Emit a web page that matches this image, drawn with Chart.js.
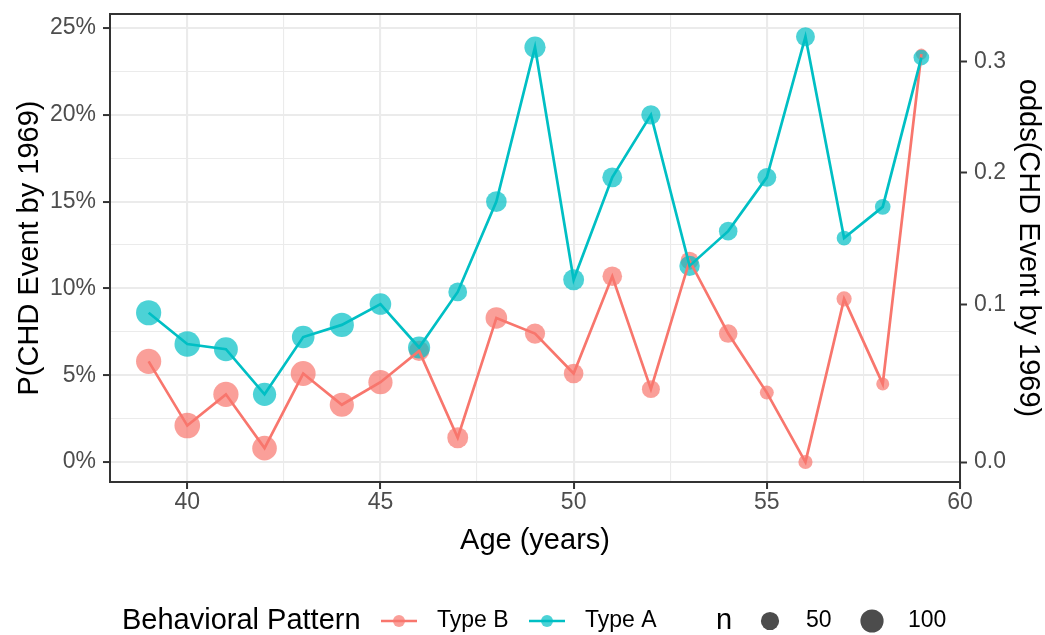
<!DOCTYPE html>
<html>
<head>
<meta charset="utf-8">
<script src="https://cdn.jsdelivr.net/npm/chart.js@4.4.1/dist/chart.umd.min.js"></script>
<style>
  html, body { margin: 0; padding: 0; background: #fff; }
  #wrap { width: 1045px; height: 635px; }
</style>
</head>
<body>
<div id="wrap"><canvas id="myChart" width="1045" height="635"></canvas></div>
<script>
// age in years, share with a CHD event by 1969 (percent), group size n
const ages = [39, 40, 41, 42, 43, 44, 45, 46, 47, 48, 49, 50, 51, 52, 53, 54, 55, 56, 57, 58, 59];
const typeB = [5.8, 2.1, 3.9, 0.8, 5.1, 3.3, 4.6, 6.4, 1.4, 8.3, 7.4, 5.1, 10.7, 4.2, 11.6, 7.4, 4.0, 0.0, 9.4, 4.5, 23.5];
const typeA = [8.6, 6.8, 6.5, 3.9, 7.2, 7.9, 9.1, 6.6, 9.8, 15.0, 23.9, 10.5, 16.4, 20.0, 11.3, 13.3, 16.4, 24.5, 12.9, 14.7, 23.3];
const nB = [125, 130, 125, 117, 121, 112, 112, 68, 75, 82, 68, 62, 62, 48, 48, 53, 21, 22, 28, 16, 8];
const nA = [125, 130, 108, 100, 93, 112, 82, 88, 55, 72, 78, 75, 65, 59, 70, 53, 56, 56, 26, 31, 31];
const ageTicks = [40, 42.5, 45, 47.5, 50, 52.5, 55, 57.5, 60];
const pctTicks = [0, 2.5, 5, 7.5, 10, 12.5, 15, 17.5, 20, 22.5, 25];
const oddsTicks = [0, 0.1, 0.2, 0.3];
const sizeBreaks = [50, 100];

const red = '#F8766D';
const cyan = '#00BFC4';
const redFill = 'rgba(248,118,109,0.7)';
const cyanFill = 'rgba(0,191,196,0.7)';
const font = "'Liberation Sans', Arial, sans-serif";

Chart.defaults.font.family = font;

function radius(n) {
    return (6.2 + 1.7 * Math.sqrt(n)) / 2;
}

function pts(ys) {
    return ages.map((a, i) => ({ x: a, y: ys[i] }));
}

function isMajor(v) {
    return Math.abs(v / 5 - Math.round(v / 5)) < 1e-6;
}

// chart.js reserves room for half a tick label at the ends, ggplot doesn't
function noEdgePadding(s) {
    s.paddingTop = 0;
    s.paddingBottom = 0;
    s.paddingLeft = 0;
    s.paddingRight = 0;
}

const gridOpts = {
    color: '#EBEBEB',
    lineWidth: ctx => isMajor(ctx.tick.value) ? 2.1 : 1.1,
    tickColor: ctx => isMajor(ctx.tick.value) ? '#333333' : 'rgba(0,0,0,0)',
    tickWidth: 2,
    tickLength: 7,
};

const panelBorder = {
    id: 'panelBorder',
    afterDraw(chart) {
        const { ctx, chartArea: a } = chart;
        ctx.save();
        ctx.strokeStyle = '#333333';
        ctx.lineWidth = 2;
        ctx.strokeRect(a.left, a.top, a.right - a.left, a.bottom - a.top);
        ctx.restore();
    }
};

// legend at the bottom, like ggplot's combined legend
const bottomLegend = {
    id: 'bottomLegend',
    afterDraw(chart) {
        const ctx = chart.ctx;
        const y = 621;
        ctx.save();
        ctx.textBaseline = 'middle';
        ctx.textAlign = 'left';
        ctx.fillStyle = '#000';
        ctx.font = `29px ${font}`;
        ctx.fillText('Behavioral Pattern', 122, y);

        const keys = [
            { x: 381, label: 'Type B', line: red, fill: redFill },
            { x: 529, label: 'Type A', line: cyan, fill: cyanFill }
        ];
        keys.forEach(k => {
            ctx.strokeStyle = k.line;
            ctx.lineWidth = 2.7;
            ctx.beginPath();
            ctx.moveTo(k.x, y);
            ctx.lineTo(k.x + 36, y);
            ctx.stroke();
            ctx.fillStyle = k.fill;
            ctx.beginPath();
            ctx.arc(k.x + 18, y, 6, 0, Math.PI * 2);
            ctx.fill();
            ctx.fillStyle = '#000';
            ctx.font = `23px ${font}`;
            ctx.fillText(k.label, k.x + 56, y);
        });

        ctx.font = `29px ${font}`;
        ctx.fillText('n', 716, y);
        const sx = [770, 872];
        sizeBreaks.forEach((n, i) => {
            ctx.fillStyle = 'rgba(0,0,0,0.7)';
            ctx.beginPath();
            ctx.arc(sx[i], y, radius(n), 0, Math.PI * 2);
            ctx.fill();
            ctx.fillStyle = '#000';
            ctx.font = `23px ${font}`;
            ctx.fillText(String(n), sx[i] + 36, y);
        });
        ctx.restore();
    }
};

const ctx = document.getElementById('myChart');

new Chart(ctx, {
    type: 'line',
    data: {
        datasets: [
            {
                label: 'Type A',
                data: pts(typeA),
                borderColor: cyan,
                borderWidth: 2.7,
                pointRadius: 0,
                tension: 0,
                order: 1
            },
            {
                label: 'Type B',
                data: pts(typeB),
                borderColor: red,
                borderWidth: 2.7,
                pointRadius: 0,
                tension: 0,
                order: 2
            },
            {
                label: 'Type A n',
                data: pts(typeA),
                showLine: false,
                pointRadius: nA.map(radius),
                pointBackgroundColor: cyanFill,
                pointBorderWidth: 0,
                pointBorderColor: 'rgba(0,0,0,0)',
                order: 3
            },
            {
                label: 'Type B n',
                data: pts(typeB),
                showLine: false,
                pointRadius: nB.map(radius),
                pointBackgroundColor: redFill,
                pointBorderWidth: 0,
                pointBorderColor: 'rgba(0,0,0,0)',
                order: 4
            }
        ]
    },
    options: {
        responsive: false,
        animation: false,
        events: [],
        layout: {
            padding: { top: 14, bottom: 75, left: 0, right: 0 }
        },
        plugins: {
            legend: { display: false },
            tooltip: { enabled: false }
        },
        scales: {
            x: {
                type: 'linear',
                min: 38,
                max: 60,
                afterBuildTicks: s => { s.ticks = ageTicks.map(v => ({ value: v })); },
                afterFit: s => { s.height = 78; noEdgePadding(s); },
                ticks: {
                    autoSkip: false,
                    maxRotation: 0,
                    padding: 2,
                    color: '#4D4D4D',
                    font: { size: 23, lineHeight: 1 },
                    callback: v => isMajor(v) ? String(v) : ''
                },
                grid: gridOpts,
                border: { display: false },
                title: {
                    display: true,
                    text: 'Age (years)',
                    color: '#000',
                    font: { size: 29, lineHeight: 1 },
                    padding: { top: 0, bottom: 5 }
                }
            },
            y: {
                type: 'linear',
                position: 'left',
                min: -1.15,
                max: 25.81,
                afterBuildTicks: s => { s.ticks = pctTicks.map(v => ({ value: v })); },
                afterFit: s => { s.width = 110; noEdgePadding(s); },
                ticks: {
                    autoSkip: false,
                    padding: 7,
                    color: '#4D4D4D',
                    font: { size: 23, lineHeight: 1 },
                    callback: v => isMajor(v) ? v + '%' : ''
                },
                grid: gridOpts,
                border: { display: false },
                title: {
                    display: true,
                    text: 'P(CHD Event by 1969)',
                    color: '#000',
                    font: { size: 29, lineHeight: 1 },
                    padding: { top: 15, bottom: 0 }
                }
            },
            y2: {
                type: 'linear',
                position: 'right',
                min: -1.15,
                max: 25.81,
                afterBuildTicks: s => { s.ticks = oddsTicks.map(o => ({ value: 100 * o / (1 + o) })); },
                afterFit: s => { s.width = 85; noEdgePadding(s); },
                ticks: {
                    autoSkip: false,
                    padding: 7,
                    color: '#4D4D4D',
                    font: { size: 23, lineHeight: 1 },
                    callback: v => (v / (100 - v)).toFixed(1)
                },
                grid: {
                    drawOnChartArea: false,
                    tickColor: '#333333',
                    tickWidth: 2,
                    tickLength: 7
                },
                border: { display: false },
                title: {
                    display: true,
                    text: 'odds(CHD Event by 1969)',
                    color: '#000',
                    font: { size: 29, lineHeight: 1 },
                    padding: { top: 3, bottom: 0 }
                }
            }
        }
    },
    plugins: [panelBorder, bottomLegend]
});
</script>
</body>
</html>
